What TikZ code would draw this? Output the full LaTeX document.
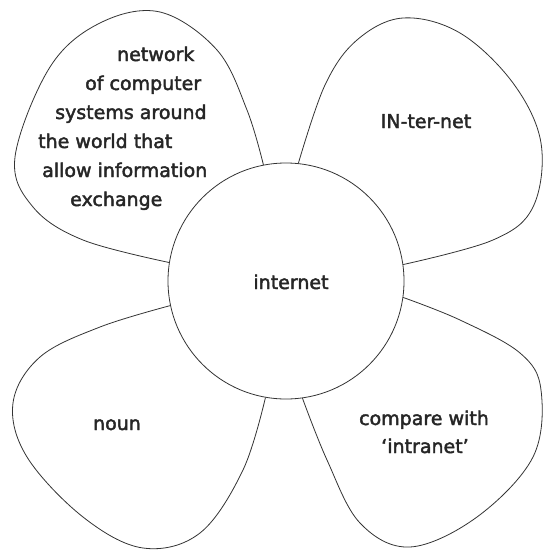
\documentclass[tikz,border=0pt]{standalone}
\usepackage{fontspec}
\setmainfont{DejaVu Sans}[BoldFont={DejaVu Sans}, BoldFeatures={FakeBold=2.2}]
\definecolor{ink}{gray}{0.2}

\begin{document}
\begin{tikzpicture}[x=1pt, y=-1pt,
	petal/.style={draw=ink, line width=0.8pt},
	word/.style={font=\fontsize{19}{23}\bfseries, text=black!85, inner sep=0pt}]
		\useasboundingbox (0,0) rectangle (543,551);
		\node[circle, draw=ink, line width=0.8pt, minimum size=236pt, inner sep=0pt] (hub) at (286,281) {};
		\node[word, anchor=base] (hubword) at (291,289) {internet};
		% the four petals
		\draw[petal] plot[smooth, tension=0.6] coordinates {(hub.101) (247,110) (217,50) (160,12) (100,23) (50,67) (15,157) (33,207) (83,240) (hub.171)};
		\draw[petal] plot[smooth, tension=0.6] coordinates {(hub.84) (325,85) (357,40) (403,18) (460,33) (513,83) (541,143) (533,207) (493,240) (hub.8)};
		\draw[petal] plot[smooth, tension=0.6] coordinates {(hub.-8) (460,320) (520,353) (541,390) (533,457) (477,517) (410,547) (360,523) (327,460) (hub.-82)};
		\draw[petal] plot[smooth, tension=0.6] coordinates {(hub.-168) (100,327) (40,357) (13,403) (27,457) (83,517) (143,548) (200,533) (243,470) (hub.-100)};
		% petal texts
		\foreach \txt/\lx/\ly [count=\i] in {network/117/61, of computer/85/90, systems around/55/119,
		  the world that/38/148, allow information/42/177, exchange/70/206}{
		  \node[word, anchor=base west] (defline\i) at (\lx,\ly) {\txt};
		}
		\node[word, anchor=base] (sound) at (426,128) {IN-ter-net};
		\node[word, anchor=base] (kind) at (117,430) {noun};
		\node[word, anchor=base] (compare) at (424,425) {compare with};
		\node[word, anchor=base] (intranet) at (425,453) {‘intranet’};
	\end{tikzpicture}
\end{document}
